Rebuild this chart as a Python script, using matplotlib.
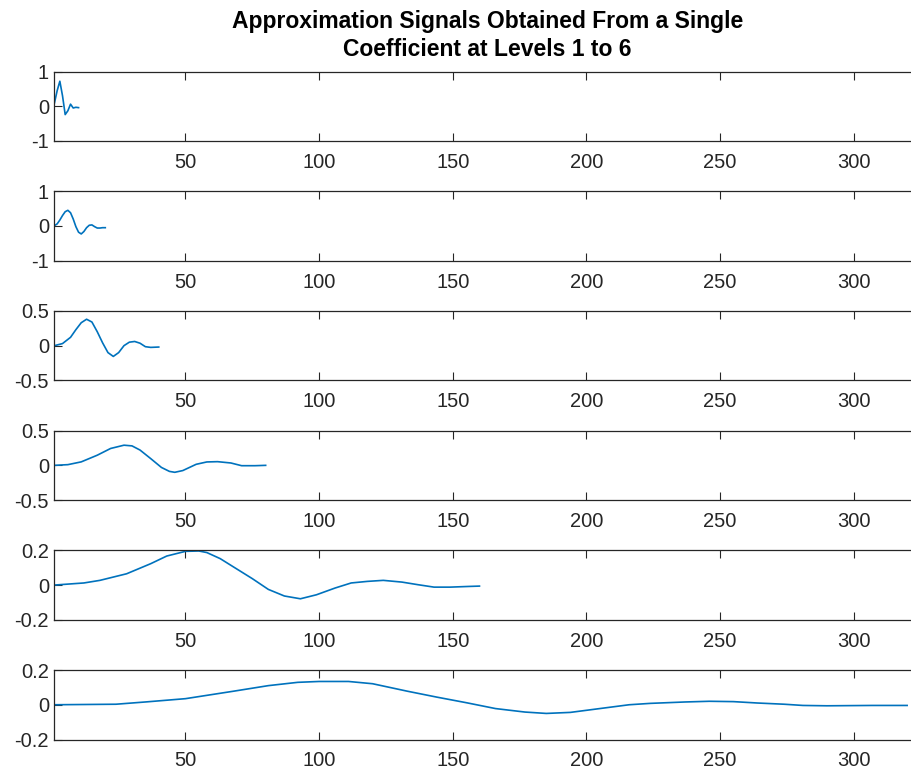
import matplotlib
matplotlib.use("Agg")
import matplotlib.pyplot as plt

plt.rcParams['font.family'] = ['Liberation Sans', 'DejaVu Sans']
plt.rcParams['axes.unicode_minus'] = False

TITLE = "Approximation Signals Obtained From a Single\nCoefficient at Levels 1 to 6"
LINE_COLOR = "#0072BD"
AXIS_COLOR = "#262626"

# values, one (x, y) list per level
lvl1_x = [1, 2, 3, 4, 5, 6, 7, 8, 9, 10]
lvl1_y = [0.10, 0.45, 0.72, 0.30, -0.24, -0.13, 0.06, -0.05, -0.03, -0.04]

lvl2_x = list(range(1, 21))
lvl2_y = [0.01, 0.06, 0.17, 0.30, 0.41, 0.45, 0.38, 0.20, -0.02, -0.18,
          -0.23, -0.16, -0.05, 0.02, 0.03, -0.02, -0.06, -0.06, -0.05, -0.05]

lvl3_x = [1, 4, 7, 9, 11, 13, 15, 17, 19, 21, 23, 25, 27, 29, 31, 33, 35, 37, 40]
lvl3_y = [0.0, 0.03, 0.12, 0.23, 0.33, 0.38, 0.34, 0.20, 0.04, -0.10, -0.155,
          -0.10, 0.0, 0.05, 0.06, 0.035, -0.015, -0.025, -0.02]

lvl4_x = [1, 6, 11, 17, 22, 27, 30, 33, 37, 41, 44, 46, 49, 54, 58, 62, 67, 71, 76, 80]
lvl4_y = [0.0, 0.01, 0.05, 0.146, 0.243, 0.29, 0.28, 0.22, 0.097, -0.03, -0.087,
          -0.10, -0.075, 0.015, 0.049, 0.053, 0.034, -0.005, -0.005, 0.0]

lvl5_x = [1, 12, 18, 28, 37, 43, 50, 55, 58, 63, 68, 75, 81, 87, 93, 99, 106,
          112, 118, 124, 131, 137, 143, 149, 156, 160]
lvl5_y = [0.0, 0.012, 0.027, 0.065, 0.123, 0.167, 0.194, 0.196, 0.187, 0.152,
          0.104, 0.037, -0.025, -0.063, -0.079, -0.056, -0.017, 0.012, 0.021,
          0.027, 0.017, 0.002, -0.012, -0.012, -0.008, -0.006]

lvl6_x = [1, 24, 35, 50, 68, 81, 92, 100, 111, 120, 133, 144, 155, 166, 177, 185,
          194, 205, 216, 224, 237, 246, 255, 264, 274, 281, 290, 307, 320]
lvl6_y = [0.0, 0.003, 0.016, 0.035, 0.078, 0.11, 0.129, 0.134, 0.134, 0.121,
          0.078, 0.044, 0.012, -0.022, -0.042, -0.05, -0.044, -0.022, 0.0,
          0.008, 0.016, 0.02, 0.018, 0.01, 0.003, -0.004, -0.006, -0.004, -0.004]

levels = [(lvl1_x, lvl1_y), (lvl2_x, lvl2_y), (lvl3_x, lvl3_y),
          (lvl4_x, lvl4_y), (lvl5_x, lvl5_y), (lvl6_x, lvl6_y)]
y_limits = [1, 1, 0.5, 0.5, 0.2, 0.2]
x_ticks = [50, 100, 150, 200, 250, 300]

W, H = 912, 770
fig = plt.figure(figsize=(W / 100, H / 100), dpi=100)

left_px = 54.5
width_px = 866.0
height_px = 69.5

for i, ((xs, ys), lim) in enumerate(zip(levels, y_limits)):
    top_px = 71.5 + 119.7 * i
    ax = fig.add_axes([left_px / W, 1 - (top_px + height_px) / H,
                       width_px / W, height_px / H])
    ax.plot(xs, ys, color=LINE_COLOR, linewidth=1.2)
    ax.set_xlim(1, 325)
    ax.set_ylim(-lim, lim)
    ax.set_xticks(x_ticks)
    ax.set_yticks([-lim, 0, lim])
    ax.set_yticklabels([f"{-lim:g}", "0", f"{lim:g}"])
    ax.tick_params(direction='in', length=5.5, width=0.8, color=AXIS_COLOR,
                   labelcolor=AXIS_COLOR, labelsize=14.5,
                   top=True, right=False)
    ax.tick_params(axis='x', pad=8.5)
    ax.tick_params(axis='y', pad=4)
    for sp in ax.spines.values():
        sp.set_color(AXIS_COLOR)
        sp.set_linewidth(0.9)
    # the right edge of the box lies past the picture in the reference
    ax.spines['right'].set_visible(False)
    if i == 0:
        ax.set_title(TITLE, fontsize=16.5, fontweight='bold', color='black',
                     pad=11, linespacing=1.3)

fig.savefig("out.png", dpi=100)
